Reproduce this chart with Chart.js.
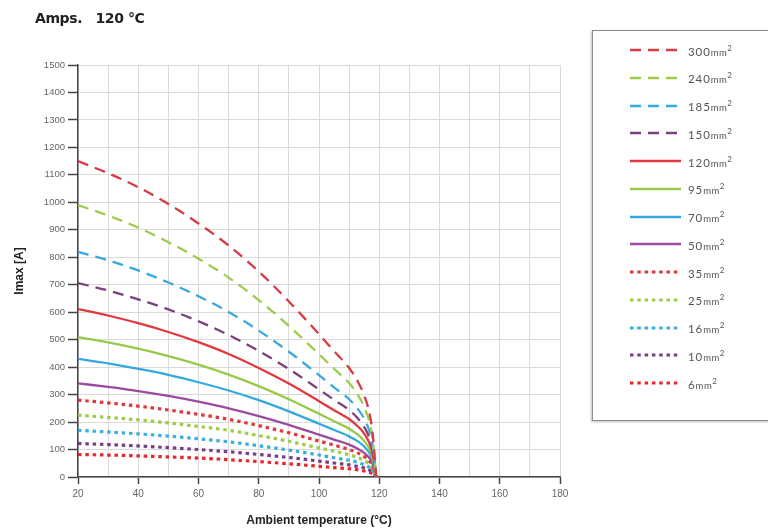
<!DOCTYPE html>
<html>
<head>
<meta charset="utf-8">
<title>Amps 120 °C</title>
<script src="https://cdn.jsdelivr.net/npm/chart.js@4.4.1/dist/chart.umd.min.js"></script>
<style>
  html, body { margin: 0; padding: 0; background: #fff; }
  body { width: 768px; height: 532px; position: relative; overflow: hidden; font-family: Lato, "DejaVu Sans", sans-serif; }
  #wrap { position: absolute; left: 0; top: 0; width: 768px; height: 532px; }
  #title { position: absolute; left: 35px; top: 10px; font: bold 14px "DejaVu Sans", sans-serif; color: #222; letter-spacing: -0.4px; white-space: pre; }
  #legend { position: absolute; left: 592px; top: 30px; width: 200px; height: 389px; border: 1px solid #8c8c8c; box-shadow: -1px 1px 2px rgba(0,0,0,0.25); background: #fff; }
  .row { position: absolute; left: 37px; height: 14px; display: flex; align-items: center; }
  .row svg { width: 51px; height: 6px; margin-right: 7px; }
  .row span { font-size: 11.5px; color: #555; letter-spacing: 0.9px; }
  .row small { font-size: 9.5px; letter-spacing: 0.5px; }
  .row sup { font-size: 8px; vertical-align: 5px; }
</style>
</head>
<body>
<div id="wrap"><canvas id="chart"></canvas></div>
<div id="title">Amps.   120 °C</div>
<div id="legend"></div>
<script>
// ── Data ──────────────────────────────────────────────────────
const temps = [20, 30, 40, 50, 60, 70, 80, 90, 100, 105, 110, 113, 115, 117, 118, 119];

const sizes = ['300', '240', '185', '150', '120', '95', '70', '50', '35', '25', '16', '10', '6'];

const imax300 = [1150, 1106, 1055, 994, 923, 843, 748, 639, 520, 458, 397, 345, 297, 219, 138, 0];
const imax240 = [990, 952, 908, 855, 795, 726, 644, 550, 447, 394, 342, 297, 255, 188, 119, 0];
const imax185 = [820, 789, 752, 708, 658, 601, 533, 456, 371, 326, 283, 246, 212, 156, 98, 0];
const imax150 = [706, 679, 647, 610, 567, 517, 459, 393, 319, 281, 244, 212, 182, 134, 85, 0];
const imax120 = [611, 588, 560, 528, 491, 448, 397, 340, 276, 243, 211, 183, 158, 116, 73, 0];
const imax95  = [509, 490, 467, 440, 409, 373, 331, 283, 230, 203, 176, 153, 131, 97, 61, 0];
const imax70  = [430, 414, 394, 372, 345, 315, 280, 239, 194, 171, 148, 129, 111, 82, 52, 0];
const imax50  = [341, 328, 313, 295, 274, 250, 222, 190, 154, 136, 118, 102, 88, 65, 41, 0];
const imax35  = [280, 270, 258, 244, 228, 210, 187, 161, 131, 116, 100, 87, 75, 55, 35, 0];
const imax25  = [225, 217, 208, 197, 184, 170, 151, 130, 106, 94, 81, 70, 60, 44, 28, 0];
const imax16  = [170, 164, 157, 149, 139, 128, 114, 98, 80, 70, 61, 53, 45, 33, 21, 0];
const imax10  = [122, 118, 113, 107, 100, 92, 82, 71, 58, 51, 44, 38, 33, 24, 15, 0];
const imax6   = [82, 80, 77, 73, 69, 63, 56, 48, 39, 34, 30, 26, 22, 16, 10, 0];

const seriesValues = [imax300, imax240, imax185, imax150, imax120, imax95, imax70,
                      imax50, imax35, imax25, imax16, imax10, imax6];

// ── Styles ────────────────────────────────────────────────────
const COLORS = ['#d93a47', '#9fcb4c', '#38a9df', '#7b3f7e', '#e0383e', '#97c94a', '#33a9e0',
                '#9a4b9e', '#e0383c', '#9ccc4a', '#3aaede', '#7a3d85', '#e8262c'];
const DASH = [11, 7];
const DOT = [3.5, 3.8];
const styleOf = i => (i < 4 ? 'dash' : i < 8 ? 'solid' : 'dot');

const datasets = sizes.map((s, i) => {
  const kind = styleOf(i);
  return {
    label: s + 'mm²',
    data: temps.map((t, k) => ({ x: t, y: seriesValues[i][k] })),
    borderColor: COLORS[i],
    backgroundColor: COLORS[i],
    borderWidth: kind === 'dot' ? 3.2 : 2.3,
    borderDash: kind === 'dash' ? DASH : kind === 'dot' ? DOT : [],
    borderCapStyle: 'butt',
    pointRadius: 0,
    cubicInterpolationMode: 'monotone',
    fill: false,
  };
});

const GRID = '#dadada';
const AXIS = '#454545';

const chart = new Chart(document.getElementById('chart'), {
  type: 'line',
  data: { datasets },
  options: {
    responsive: true,
    maintainAspectRatio: false,
    animation: false,
    layout: { padding: { left: 0, top: 65, right: 208, bottom: 0 } },
    plugins: { legend: { display: false }, tooltip: { enabled: false } },
    scales: {
      x: {
        type: 'linear',
        min: 20,
        max: 180,
        ticks: {
          stepSize: 10,
          autoSkip: false,
          maxRotation: 0,
          color: '#666',
          font: { size: 10 },
          padding: 4,
          callback: v => (v % 20 === 0 ? String(v) : ''),
        },
        grid: {
          color: GRID,
          tickColor: c => (c.tick && c.tick.value % 20 === 0 ? AXIS : 'rgba(0,0,0,0)'),
          tickLength: 7,
          tickWidth: 1.5,
        },
        border: { color: AXIS, width: 1.5 },
        title: {
          display: true,
          text: 'Ambient temperature (°C)',
          color: '#222',
          font: { size: 12, weight: 'bold' },
        },
        afterFit: s => { s.height = 55; },
      },
      y: {
        min: 0,
        max: 1500,
        ticks: { stepSize: 100, color: '#666', font: { size: 9.5 }, padding: 3, callback: v => String(v) },
        grid: { color: GRID, tickColor: AXIS, tickLength: 10, tickWidth: 1.5 },
        border: { color: AXIS, width: 1.5 },
        title: {
          display: true,
          text: 'Imax [A]',
          color: '#222',
          font: { size: 12, weight: 'bold' },
          padding: { top: 12, bottom: 4 },
        },
        afterFit: s => { s.width = 78; },
      },
    },
  },
});

// ── Legend (built from the chart's datasets) ──────────────────
const legend = document.getElementById('legend');
chart.data.datasets.forEach((ds, i) => {
  const row = document.createElement('div');
  row.className = 'row';
  row.style.top = (12 + i * 27.75) + 'px';
  const dash = ds.borderDash.length ? ds.borderDash.join(' ') : 'none';
  row.innerHTML =
    `<svg viewBox="0 0 51 6"><line x1="0" y1="3" x2="51" y2="3" stroke="${ds.borderColor}"
       stroke-width="${ds.borderWidth}" stroke-dasharray="${dash}"/></svg>` +
    `<span>${sizes[i]}<small>mm</small><sup>2</sup></span>`;
  legend.appendChild(row);
});
</script>
</body>
</html>
